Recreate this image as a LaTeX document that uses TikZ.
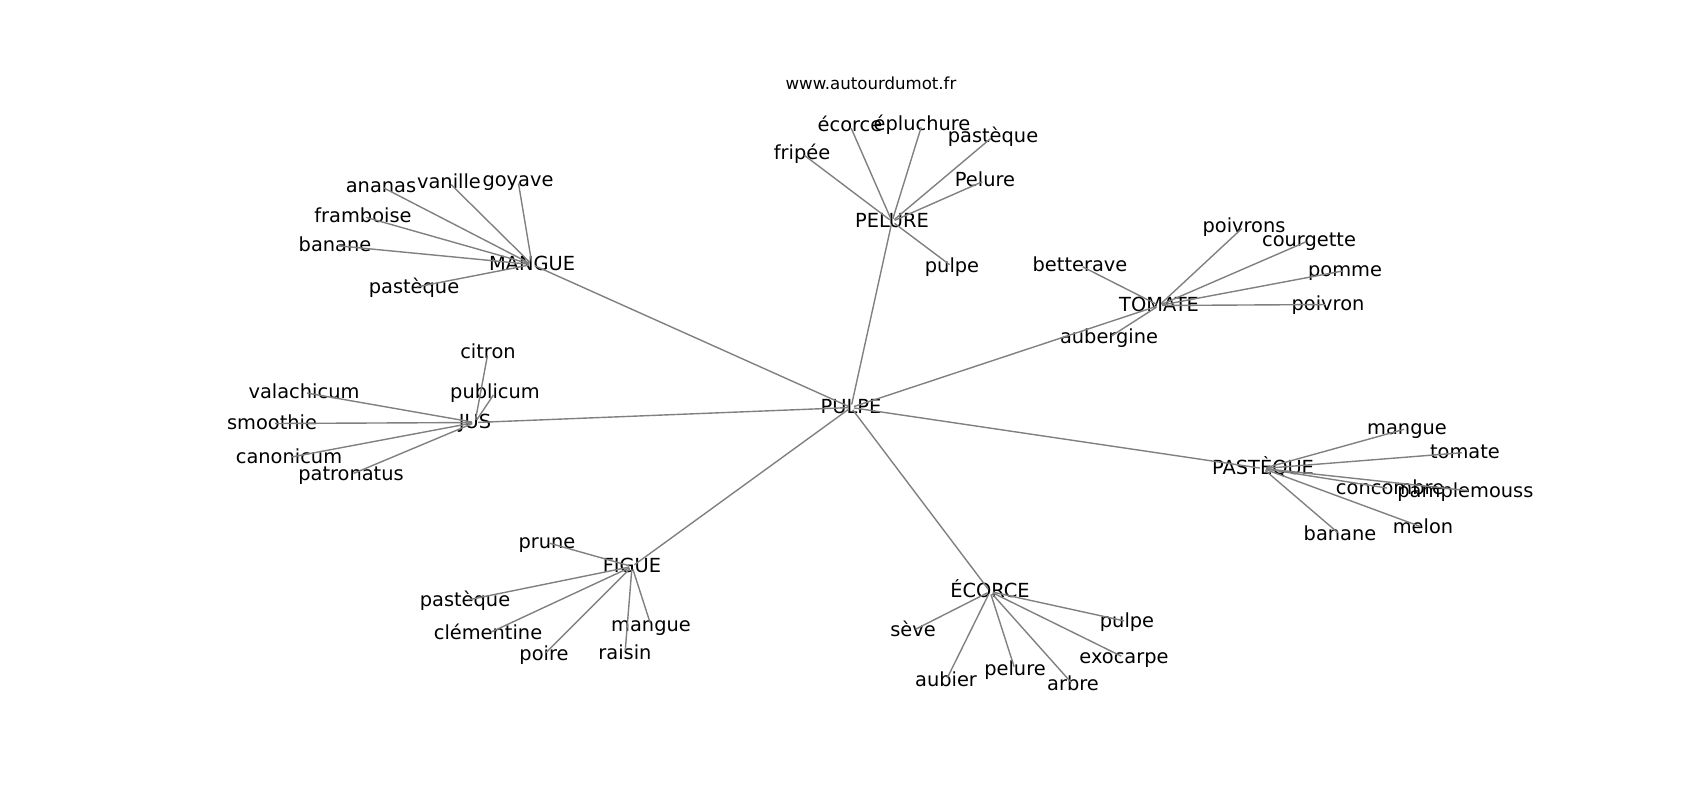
\documentclass[tikz,border=0pt]{standalone}
\usepackage{fontspec}
\setmainfont{DejaVu Sans}
\definecolor{edgegray}{RGB}{128,128,128}
\begin{document}
\begin{tikzpicture}[x=0.5pt,y=-0.5pt,
  w/.style={font=\fontsize{9.7}{11}\selectfont, inner sep=0pt, text height=0.76em, text depth=0.21em, anchor=center, yshift=-0.75pt},
  e/.style={draw=edgegray, line width=0.7pt, shorten <=1.5pt, shorten >=1.5pt}]
\useasboundingbox (0,0) rectangle (1700,800);
\node[font=\fontsize{8.3}{10}\selectfont, inner sep=0pt] (title) at (871,83) {www.autourdumot.fr};
% hubs
\node[w] (pulpe) at (851,406) {PULPE};
\node[w] (mangue) at (532,263) {MANGUE};
\node[w] (pelure) at (892,220) {PELURE};
\node[w] (tomate) at (1159,304) {TOMATE};
\node[w] (pasteque) at (1263,467) {PASTÈQUE};
\node[w] (jus) at (475,421) {JUS};
\node[w] (figue) at (632,565) {FIGUE};
\node[w] (ecorce) at (990,590) {ÉCORCE};
% MANGUE leaves
\node[w] (m1) at (381,185) {ananas};
\node[w] (m2) at (449,181) {vanille};
\node[w] (m3) at (518,179) {goyave};
\node[w] (m4) at (363,215) {framboise};
\node[w] (m5) at (335,244) {banane};
\node[w] (m6) at (414,286) {pastèque};
% PELURE leaves
\node[w] (p1) at (850,124) {écorce};
\node[w] (p2) at (922,123) {épluchure};
\node[w] (p3) at (993,135) {pastèque};
\node[w] (p4) at (802,152) {fripée};
\node[w] (p5) at (985,179) {Pelure};
\node[w] (p6) at (952,265) {pulpe};
% TOMATE leaves
\node[w] (t1) at (1244,225) {poivrons};
\node[w] (t2) at (1309,239) {courgette};
\node[w] (t3) at (1080,264) {betterave};
\node[w] (t4) at (1345,269) {pomme};
\node[w] (t5) at (1328,303) {poivron};
\node[w] (t6) at (1109,336) {aubergine};
% PASTEQUE leaves
\node[w] (q1) at (1407,427) {mangue};
\node[w] (q2) at (1465,451) {tomate};
\node[w] (q3) at (1390,487) {concombre};
\coordinate (q4) at (1471,491);
\node[w, anchor=west] (q4l) at (1397,490) {pamplemouss};
\node[w] (q5) at (1423,526) {melon};
\node[w] (q6) at (1340,533) {banane};
% JUS leaves
\node[w] (j1) at (488,351) {citron};
\node[w] (j2) at (495,391) {publicum};
\node[w] (j3) at (304,391) {valachicum};
\node[w] (j4) at (272,422) {smoothie};
\node[w] (j5) at (289,456) {canonicum};
\node[w] (j6) at (351,473) {patronatus};
% FIGUE leaves
\node[w] (f1) at (547,541) {prune};
\node[w] (f2) at (465,599) {pastèque};
\node[w] (f3) at (488,632) {clémentine};
\node[w] (f4) at (651,624) {mangue};
\node[w] (f5) at (544,653) {poire};
\node[w] (f6) at (625,652) {raisin};
% ECORCE leaves
\node[w] (e1) at (1127,620) {pulpe};
\node[w] (e2) at (913,629) {sève};
\node[w] (e3) at (1124,656) {exocarpe};
\node[w] (e4) at (1015,668) {pelure};
\node[w] (e5) at (946,679) {aubier};
\node[w] (e6) at (1073,683) {arbre};
% edges
\foreach \h in {mangue,pelure,tomate,pasteque,jus,figue,ecorce}
  \draw[e] (pulpe.center) -- (\h.center);
\foreach \h/\p in {mangue/m,pelure/p,tomate/t,pasteque/q,jus/j,figue/f,ecorce/e}
  \foreach \i in {1,...,6}
    \draw[e] (\h.center) -- (\p\i.center);
\end{tikzpicture}
\end{document}
